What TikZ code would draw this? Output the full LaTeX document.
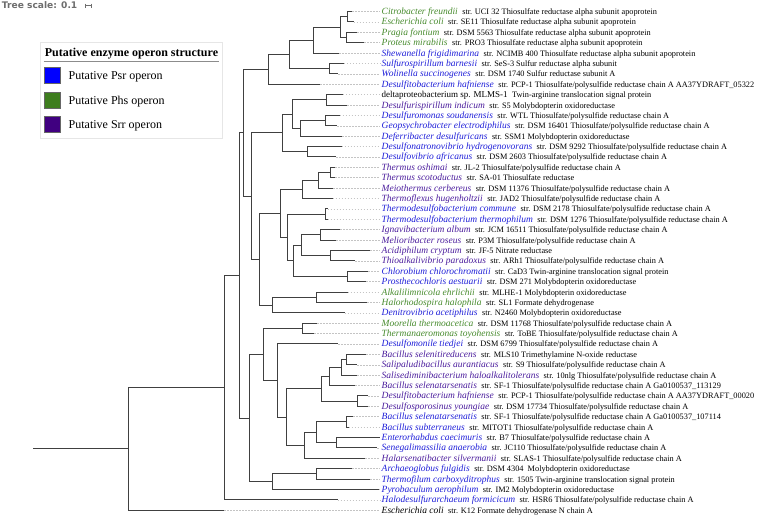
\documentclass[tikz,border=0pt]{standalone}
\usepackage{fontspec}
\setmainfont{Liberation Serif}
\newfontfamily\djb{DejaVu Sans}
\usetikzlibrary{calc}
\definecolor{cpsr}{HTML}{0000FF}
\definecolor{cphs}{HTML}{3E7D1E}
\definecolor{csrr}{HTML}{400080}
\definecolor{tpsr}{HTML}{1E1ED8}
\definecolor{tphs}{HTML}{468A2C}
\definecolor{tsrr}{HTML}{4A1C9C}
\definecolor{cbr}{HTML}{404040}
\definecolor{clead}{HTML}{C4C4C4}
\definecolor{legbd}{HTML}{E6E6E6}
\definecolor{scalegray}{HTML}{6E6E6E}
\tikzset{
  br/.style={draw=cbr, line width=1pt},
  lead/.style={draw=clead, line width=0.5pt, dash pattern=on 1.5pt off 1.5pt},
  lab/.style={anchor=west, inner sep=0pt, text height=8pt, text depth=2pt},
  legsq/.style={draw=black!60, line width=0.3pt, minimum size=16.2pt, inner sep=0pt},
  legtxt/.style={anchor=base west, inner sep=0pt, font=\fontsize{12}{14}\selectfont},
}
\newcommand{\spf}{\fontsize{9.5}{11}\selectfont\itshape}
\newcommand{\dsf}{\fontsize{8.3}{10}\selectfont\upshape}
\newcommand{\tnd}[4]{%
  \path let \p1=(#3),\p2=(#4) in (#2pt,{0.5*(\y1+\y2)}) coordinate (#1);
  \draw[br] (#1) |- (#3) (#1) |- (#4);}
\newcommand{\tleaf}[5]{%
  \pgfmathsetmacro\yy{-(11.5+(#1-1)*10.39)}
  \coordinate (L#1) at (#2pt,\yy pt);
  \node[lab] (T#1) at (381.5pt,\yy pt) {{\color{#3}\spf #4}\hspace{4.5pt}{\dsf #5}};
  \draw[lead] (L#1) -- ([xshift=-1.5pt]T#1.west);}
\begin{document}
\begin{tikzpicture}[x=1pt,y=1pt]
\useasboundingbox (0,0) rectangle (760,-517);
% scale
\node[anchor=base west, inner sep=0pt, text=scalegray, font=\djb\bfseries\fontsize{9.1}{10}\selectfont] (scl) at (1.7,-8.3) {Tree scale: 0.1};
\coordinate (sa) at (85,-5.5);
\coordinate (sb) at (91.5,-5.5);
\draw[scalegray, line width=0.6pt] (sa) -- (sb) ([yshift=2pt]sa) -- ([yshift=-2pt]sa) ([yshift=2pt]sb) -- ([yshift=-2pt]sb);
% legend
\node[draw=legbd, fill=white, line width=0.6pt, anchor=north west, inner sep=0pt, minimum width=181.7pt, minimum height=96.6pt] (legend) at (40,-41.7) {};
\node[anchor=base, inner sep=0pt, font=\bfseries\fontsize{12}{14}\selectfont] (legt) at (131.5,-56.2) {Putative enzyme operon structure};
\draw[black!45, line width=0.7pt] (43.5,-61.5) -- (218.5,-61.5);
\node[legsq, fill=cpsr] (sq1) at (52.5,-75.5) {};
\node[legsq, fill=cphs] (sq2) at (52.5,-100.2) {};
\node[legsq, fill=csrr] (sq3) at (52.5,-124.2) {};
\node[legtxt] (lt1) at (68.5,-79.8) {Putative Psr operon};
\node[legtxt] (lt2) at (68.5,-104.5) {Putative Phs operon};
\node[legtxt] (lt3) at (68.5,-128.5) {Putative Srr operon};
% leaves
\tleaf{1}{352}{tphs}{Citrobacter freundii}{str. UCI 32 Thiosulfate reductase alpha subunit apoprotein}
\tleaf{2}{353.7}{tphs}{Escherichia coli}{str. SE11 Thiosulfate reductase alpha subunit apoprotein}
\tleaf{3}{357}{tphs}{Pragia fontium}{str. DSM 5563 Thiosulfate reductase alpha subunit apoprotein}
\tleaf{4}{364}{tphs}{Proteus mirabilis}{str. PRO3 Thiosulfate reductase alpha subunit apoprotein}
\tleaf{5}{339}{tpsr}{Shewanella frigidimarina}{str. NCIMB 400 Thiosulfate reductase alpha subunit apoprotein}
\tleaf{6}{343.8}{tpsr}{Sulfurospirillum barnesii}{str. SeS-3 Sulfur reductase alpha subunit}
\tleaf{7}{338}{tpsr}{Wolinella succinogenes}{str. DSM 1740 Sulfur reductase subunit A}
\tleaf{8}{320}{tpsr}{Desulfitobacterium hafniense}{str. PCP-1 Thiosulfate/polysulfide reductase chain A AA37YDRAFT\_05322}
\tleaf{9}{342.8}{black}{\upshape\fontsize{9}{10}\selectfont deltaproteobacterium sp. MLMS-1}{Twin-arginine translocation signal protein}
\tleaf{10}{347}{tsrr}{Desulfurispirillum indicum}{str. S5 Molybdopterin oxidoreductase}
\tleaf{11}{339.5}{tpsr}{Desulfuromonas soudanensis}{str. WTL Thiosulfate/polysulfide reductase chain A}
\tleaf{12}{337}{tpsr}{Geopsychrobacter electrodiphilus}{str. DSM 16401 Thiosulfate/polysulfide reductase chain A}
\tleaf{13}{342}{tpsr}{Deferribacter desulfuricans}{str. SSM1 Molybdopterin oxidoreductase}
\tleaf{14}{341.5}{tpsr}{Desulfonatronovibrio hydrogenovorans}{str. DSM 9292 Thiosulfate/polysulfide reductase chain A}
\tleaf{15}{336}{tpsr}{Desulfovibrio africanus}{str. DSM 2603 Thiosulfate/polysulfide reductase chain A}
\tleaf{16}{335}{tsrr}{Thermus oshimai}{str. JL-2 Thiosulfate/polysulfide reductase chain A}
\tleaf{17}{335}{tsrr}{Thermus scotoductus}{str. SA-01 Thiosulfate reductase}
\tleaf{18}{333.3}{tsrr}{Meiothermus cerbereus}{str. DSM 11376 Thiosulfate/polysulfide reductase chain A}
\tleaf{19}{332.7}{tsrr}{Thermoflexus hugenholtzii}{str. JAD2 Thiosulfate/polysulfide reductase chain A}
\tleaf{20}{327.5}{tpsr}{Thermodesulfobacterium commune}{str. DSM 2178 Thiosulfate/polysulfide reductase chain A}
\tleaf{21}{327.5}{tpsr}{Thermodesulfobacterium thermophilum}{str. DSM 1276 Thiosulfate/polysulfide reductase chain A}
\tleaf{22}{340}{tsrr}{Ignavibacterium album}{str. JCM 16511 Thiosulfate/polysulfide reductase chain A}
\tleaf{23}{336}{tsrr}{Melioribacter roseus}{str. P3M Thiosulfate/polysulfide reductase chain A}
\tleaf{24}{370}{tsrr}{Acidiphilum cryptum}{str. JF-5 Nitrate reductase}
\tleaf{25}{355}{tsrr}{Thioalkalivibrio paradoxus}{str. ARh1 Thiosulfate/polysulfide reductase chain A}
\tleaf{26}{368}{tpsr}{Chlorobium chlorochromatii}{str. CaD3 Twin-arginine translocation signal protein}
\tleaf{27}{366}{tpsr}{Prosthecochloris aestuarii}{str. DSM 271 Molybdopterin oxidoreductase}
\tleaf{28}{347.5}{tphs}{Alkalilimnicola ehrlichii}{str. MLHE-1 Molybdopterin oxidoreductase}
\tleaf{29}{367}{tphs}{Halorhodospira halophila}{str. SL1 Formate dehydrogenase}
\tleaf{30}{344.5}{tpsr}{Denitrovibrio acetiphilus}{str. N2460 Molybdopterin oxidoreductase}
\tleaf{31}{317}{tphs}{Moorella thermoacetica}{str. DSM 11768 Thiosulfate/polysulfide reductase chain A}
\tleaf{32}{314}{tphs}{Thermanaeromonas toyohensis}{str. ToBE Thiosulfate/polysulfide reductase chain A}
\tleaf{33}{338}{tpsr}{Desulfomonile tiedjei}{str. DSM 6799 Thiosulfate/polysulfide reductase chain A}
\tleaf{34}{366}{tsrr}{Bacillus selenitireducens}{str. MLS10 Trimethylamine N-oxide reductase}
\tleaf{35}{357}{tsrr}{Salipaludibacillus aurantiacus}{str. S9 Thiosulfate/polysulfide reductase chain A}
\tleaf{36}{357}{tsrr}{Salisediminibacterium haloalkalitolerans}{str. 10nlg Thiosulfate/polysulfide reductase chain A}
\tleaf{37}{355}{tsrr}{Bacillus selenatarsenatis}{str. SF-1 Thiosulfate/polysulfide reductase chain A Ga0100537\_113129}
\tleaf{38}{368}{tsrr}{Desulfitobacterium hafniense}{str. PCP-1 Thiosulfate/polysulfide reductase chain A AA37YDRAFT\_00020}
\tleaf{39}{368}{tsrr}{Desulfosporosinus youngiae}{str. DSM 17734 Thiosulfate/polysulfide reductase chain A}
\tleaf{40}{353}{tpsr}{Bacillus selenatarsenatis}{str. SF-1 Thiosulfate/polysulfide reductase chain A Ga0100537\_107114}
\tleaf{41}{348.7}{tpsr}{Bacillus subterraneus}{str. MITOT1 Thiosulfate/polysulfide reductase chain A}
\tleaf{42}{380}{tpsr}{Enterorhabdus caecimuris}{str. B7 Thiosulfate/polysulfide reductase chain A}
\tleaf{43}{377}{tpsr}{Senegalimassilia anaerobia}{str. JC110 Thiosulfate/polysulfide reductase chain A}
\tleaf{44}{365}{tsrr}{Halarsenatibacter silvermanii}{str. SLAS-1 Thiosulfate/polysulfide reductase chain A}
\tleaf{45}{352}{tpsr}{Archaeoglobus fulgidis}{str. DSM 4304\ \ Molybdopterin oxidoreductase}
\tleaf{46}{370}{tpsr}{Thermofilum carboxyditrophus}{str. 1505 Twin-arginine translocation signal protein}
\tleaf{47}{379}{tpsr}{Pyrobaculum aerophilum}{str. IM2 Molybdopterin oxidoreductase}
\tleaf{48}{337.5}{tpsr}{Halodesulfurarchaeum formicicum}{str. HSR6 Thiosulfate/polysulfide reductase chain A}
\tleaf{49}{224}{black}{Escherichia coli}{str. K12 Formate dehydrogenase N chain A}
% internal nodes
\tnd{n12}{347.7}{L1}{L2}
\tnd{n34}{346}{L3}{L4}
\tnd{n1t4}{340.5}{n12}{n34}
\tnd{n1t5}{313}{n1t4}{L5}
\tnd{n67}{329.6}{L6}{L7}
\tnd{n1t7}{289.3}{n1t5}{n67}
\tnd{n1t8}{268.8}{n1t7}{L8}
\tnd{n9t10}{326.6}{L9}{L10}
\tnd{n11t12}{325.6}{L11}{L12}
\tnd{n11t13}{300.9}{n11t12}{L13}
\tnd{n9t13}{292.6}{n9t10}{n11t13}
\tnd{n14t15}{307.5}{L14}{L15}
\tnd{nA}{282.6}{n9t13}{n14t15}
\tnd{n16t17}{330}{L16}{L17}
\tnd{n16t18}{318.5}{n16t17}{L18}
\tnd{nE}{302}{n16t18}{L19}
\tnd{n20t21}{325.6}{L20}{L21}
\tnd{n22t23}{320.7}{L22}{L23}
\tnd{n24t25}{330.5}{L24}{L25}
\tnd{nH}{301.3}{n22t23}{n24t25}
\tnd{n26t27}{347.3}{L26}{L27}
\tnd{nG}{293}{nH}{n26t27}
\tnd{nF}{287.8}{n20t21}{nG}
\tnd{nC}{280}{nE}{nF}
\tnd{n28t29}{316.8}{L28}{L29}
\tnd{nD}{272.3}{n28t29}{L30}
\tnd{nBb}{259.8}{nC}{nD}
\tnd{nBa}{251.5}{nA}{nBb}
\tnd{nTop}{243.2}{n1t8}{nBa}
\tnd{n31t32}{302.2}{L31}{L32}
\tnd{n34t35}{346.5}{L34}{L35}
\tnd{n34t36}{341}{n34t35}{L36}
\tnd{n34t37}{329.3}{n34t36}{L37}
\tnd{n38t39}{357}{L38}{L39}
\tnd{n34t39}{321.5}{n34t37}{n38t39}
\tnd{n40t41}{346.5}{L40}{L41}
\tnd{n42t43}{336.8}{L42}{L43}
\tnd{n40t43}{316.8}{n40t41}{n42t43}
\tnd{n40t44}{304.2}{n40t43}{L44}
\tnd{n34t44}{286}{n34t39}{n40t44}
\tnd{n33t44}{277.3}{L33}{n34t44}
\tnd{n31t44}{263.1}{n31t32}{n33t44}
\tnd{n45t46}{316}{L45}{L46}
\tnd{n45t47}{272.3}{n45t46}{L47}
\tnd{n31t47}{249.3}{n31t44}{n45t47}
\tnd{nMid}{239.5}{nTop}{n31t47}
\tnd{nIn}{224}{nMid}{L48}
\tnd{root}{128.3}{nIn}{L49}
\path let \p1=(root) in (33,\y1) coordinate (rstub);
\draw[br] (rstub) -- (root);
\end{tikzpicture}
\end{document}
